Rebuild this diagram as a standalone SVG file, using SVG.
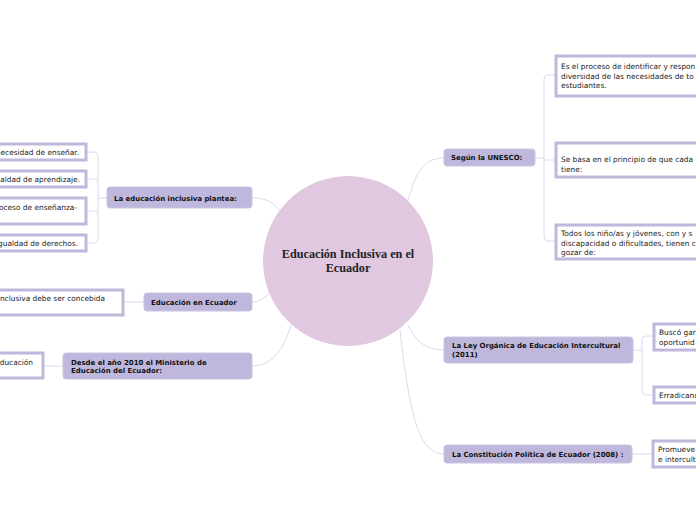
<svg xmlns="http://www.w3.org/2000/svg" width="696" height="520" viewBox="0 0 696 520">
<style>
.topic rect{fill:#bfb8dc;stroke:#c9c3e3;stroke-width:1}
.topic text{font-family:"DejaVu Sans",Verdana,sans-serif;font-weight:bold;font-size:6.95px;fill:#111}
.sub rect{fill:#fff;stroke:#bfb8dc;stroke-width:3}
.sub text{font-family:"DejaVu Sans",Verdana,sans-serif;font-size:7.4px;fill:#222}
.conn path{fill:none;stroke:#dcd8ee;stroke-width:1}
.central text{font-family:"Liberation Serif","DejaVu Serif",serif;font-weight:bold;font-size:12.2px;fill:#222}
</style>
<rect width="696" height="520" fill="#fff"/>
<g id="connectors" class="conn">
<path d="M252,198 C270,198 275,205 283,214"/>
<path d="M252,302 C260,302 265,298 270,292"/>
<path d="M252,366 C275,366 285,345 292,322"/>
<path d="M444,158 C420,158 415,178 408,200"/>
<path d="M444,350 C425,350 415,340 408,325"/>
<path d="M444,454 C420,454 410,420 400,330"/>
<path d="M107,198 H98"/>
<path d="M86,152 H94 Q98,152 98,156 V239 Q98,243 94,243 H86"/>
<path d="M86,179 H98"/>
<path d="M86,211 H98"/>
<path d="M123,302 H144"/>
<path d="M43,366 H63"/>
<path d="M535,158 H544"/>
<path d="M555,75 H548 Q544,75 544,79 V237 Q544,241 548,241 H555"/>
<path d="M544,160 H555"/>
<path d="M633,350 H642"/>
<path d="M653,336 H646 Q642,336 642,340 V391 Q642,395 646,395 H653"/>
<path d="M632,454 H652"/>
</g>
<g id="central" class="central">
<circle cx="348" cy="261" r="85" fill="#e0c8e0"/>
<text x="348" y="258" text-anchor="middle">Educación Inclusiva en el</text>
<text x="348" y="272" text-anchor="middle">Ecuador</text>
</g>
<g id="t-plantea" class="topic"><rect x="107" y="187" width="145" height="21" rx="3"/><text x="114" y="201">La educación inclusiva plantea:</text></g>
<g id="t-ecuador" class="topic"><rect x="144" y="293" width="108" height="18" rx="3"/><text x="151" y="305">Educación en Ecuador</text></g>
<g id="t-desde" class="topic"><rect x="63" y="353" width="189" height="26" rx="3"/><text x="71" y="365">Desde el año 2010 el Ministerio de</text><text x="71" y="373">Educación del Ecuador:</text></g>
<g id="t-unesco" class="topic"><rect x="444" y="149" width="91" height="17" rx="3"/><text x="451" y="160">Según la UNESCO:</text></g>
<g id="t-ley" class="topic"><rect x="444" y="337" width="189" height="26" rx="3"/><text x="452" y="348">La Ley Orgánica de Educación Intercultural</text><text x="452" y="357">(2011)</text></g>
<g id="t-const" class="topic"><rect x="444" y="445" width="188" height="18" rx="3"/><text x="452" y="457">La Constitución Política de Ecuador (2008) :</text></g>
<g id="s1" class="sub"><rect x="-20" y="144" width="106" height="16"/><text x="79" y="155" text-anchor="end">necesidad de enseñar.</text></g>
<g id="s2" class="sub"><rect x="-20" y="171" width="106" height="16"/><text x="80" y="182" text-anchor="end">igualdad de aprendizaje.</text></g>
<g id="s3" class="sub"><rect x="-20" y="198" width="106" height="26"/><text x="77" y="210" text-anchor="end">proceso de enseñanza-</text></g>
<g id="s4" class="sub"><rect x="-20" y="235" width="106" height="16"/><text x="78" y="246" text-anchor="end">igualdad de derechos.</text></g>
<g id="s5" class="sub"><rect x="-20" y="290" width="143" height="25"/><text x="105" y="301" text-anchor="end">inclusiva debe ser concebida</text></g>
<g id="s6" class="sub"><rect x="-20" y="353" width="63" height="25"/><text x="33" y="365" text-anchor="end">educación</text></g>
<g id="s7" class="sub"><rect x="556" y="56" width="160" height="40"/><text x="561" y="69">Es el proceso de identificar y respon</text><text x="561" y="79">diversidad de las necesidades de to</text><text x="561" y="88">estudiantes.</text></g>
<g id="s8" class="sub"><rect x="556" y="143" width="160" height="34"/><text x="561" y="162">Se basa en el principio de que cada</text><text x="561" y="172">tiene:</text></g>
<g id="s9" class="sub"><rect x="556" y="225" width="160" height="34"/><text x="561" y="236">Todos los niño/as y jóvenes, con y s</text><text x="561" y="246">discapacidad o dificultades, tienen c</text><text x="561" y="255">gozar de:</text></g>
<g id="s10" class="sub"><rect x="654" y="324" width="60" height="26"/><text x="659" y="335">Buscó gar</text><text x="659" y="345">oportunid</text></g>
<g id="s11" class="sub"><rect x="654" y="387" width="60" height="16"/><text x="659" y="398">Erradicand</text></g>
<g id="s12" class="sub"><rect x="653" y="441" width="60" height="26"/><text x="658" y="452">Promueve</text><text x="658" y="462">e intercult</text></g>
</svg>
